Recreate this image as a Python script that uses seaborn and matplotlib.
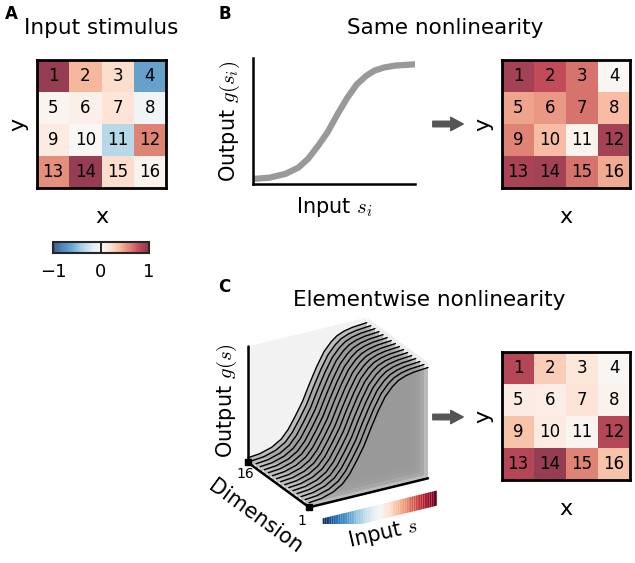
import numpy as np
import matplotlib
matplotlib.use("Agg")
import matplotlib.pyplot as plt
import seaborn as sns
from mpl_toolkits.mplot3d.art3d import Poly3DCollection

# cell values (RdBu_r scale, -1..1), row-major, cells numbered 1..16
cell_ids = np.arange(1, 17).reshape(4, 4)
stimulus = [[0.95, 0.40, 0.22, -0.65],
            [0.04, 0.08, 0.18, -0.06],
            [0.12, 0.02, -0.35, 0.60],
            [0.55, 0.95, 0.22, 0.06]]
same_out = [[0.90, 0.80, 0.65, 0.03],
            [0.48, 0.52, 0.65, 0.38],
            [0.60, 0.38, 0.06, 0.90],
            [0.88, 0.90, 0.65, 0.45]]
elem_out = [[0.85, 0.30, 0.15, 0.03],
            [0.12, 0.10, 0.18, 0.06],
            [0.35, 0.12, 0.04, 0.85],
            [0.85, 0.95, 0.60, 0.35]]

# sigmoid (normalised axes)
curve_x = [0.0, 0.10, 0.20, 0.28, 0.34, 0.40, 0.46, 0.52, 0.58, 0.64, 0.70, 0.75, 0.81, 0.88, 1.0]
curve_y = [0.04, 0.05, 0.08, 0.13, 0.20, 0.30, 0.41, 0.55, 0.68, 0.79, 0.86, 0.90, 0.925, 0.94, 0.95]
dims = list(range(1, 17))

sns.set_style("white")
plt.rcParams["font.family"] = ["DejaVu Sans"]
plt.rcParams["mathtext.fontset"] = "cm"
plt.rcParams["text.color"] = "black"
plt.rcParams["axes.labelcolor"] = "black"
plt.rcParams["xtick.color"] = "black"
plt.rcParams["ytick.color"] = "black"

W, H = 635, 563
fig = plt.figure(figsize=(W / 100, H / 100), dpi=100)


def px(x0, y0, w, h):
    # pixel box (top-left origin) -> figure rect
    return [x0 / W, 1 - (y0 + h) / H, w / W, h / H]


def grid_map(ax, vals, xlab_pad=14):
    sns.heatmap(np.array(vals), ax=ax, cmap="RdBu_r", vmin=-1, vmax=1, alpha=0.78,
                annot=cell_ids, fmt="d", cbar=False, square=False,
                annot_kws={"fontsize": 12, "color": "black"})
    ax.set_xticks([])
    ax.set_yticks([])
    for sp in ax.spines.values():
        sp.set_visible(True)
        sp.set_linewidth(2)
        sp.set_color("black")
    ax.set_xlabel("x", fontsize=16, labelpad=xlab_pad)
    ax.set_ylabel("y", fontsize=16, labelpad=6)


# A
axA = fig.add_axes(px(37, 60, 129, 128))
grid_map(axA, stimulus)
cax = fig.add_axes(px(53, 242, 96, 11))
cb = fig.colorbar(axA.collections[0], cax=cax, orientation="horizontal", ticks=[-1, 0, 1])
cb.ax.tick_params(length=0, labelsize=13, pad=7)
cb.ax.set_xticklabels(["\u22121", "0", "1"])
cb.ax.axvline(0, color="black", lw=1.2)
cb.outline.set_linewidth(1.5)
fig.text(101 / W, 1 - 28 / H, "Input stimulus", fontsize=15.5, ha="center", va="center")
fig.text(5 / W, 1 - 14 / H, "A", fontsize=12, fontweight="bold", ha="left", va="center")

# B
axB = fig.add_axes(px(253, 58, 162, 126))
sns.lineplot(x=curve_x, y=curve_y, ax=axB, color="0.6", linewidth=4.5)
axB.set_xlim(0, 1)
axB.set_ylim(0, 1)
axB.set_xticks([])
axB.set_yticks([])
sns.despine(ax=axB)
for sp in ["left", "bottom"]:
    axB.spines[sp].set_linewidth(1.8)
    axB.spines[sp].set_color("black")
axB.set_xlabel("Input $s_i$", fontsize=15, labelpad=8)
axB.set_ylabel("Output $g(s_i)$", fontsize=15, labelpad=8)

axB2 = fig.add_axes(px(502, 60, 128, 128))
grid_map(axB2, same_out)
fig.text(445 / W, 1 - 28 / H, "Same nonlinearity", fontsize=15.5, ha="center", va="center")
fig.text(218 / W, 1 - 14 / H, "B", fontsize=12, fontweight="bold", ha="left", va="center")

arrow = dict(arrowstyle="simple,head_length=0.45,head_width=0.48,tail_width=0.2",
             color="#555555", mutation_scale=20)
fig.add_artist(matplotlib.patches.FancyArrowPatch((430 / W, 1 - 124 / H), (466 / W, 1 - 124 / H),
                                                  transform=fig.transFigure, **arrow))
fig.add_artist(matplotlib.patches.FancyArrowPatch((430 / W, 1 - 417 / H), (466 / W, 1 - 417 / H),
                                                  transform=fig.transFigure, **arrow))

# C
axC2 = fig.add_axes(px(502, 352, 128, 128))
grid_map(axC2, elem_out)
fig.text(429 / W, 1 - 300 / H, "Elementwise nonlinearity", fontsize=15.5, ha="center", va="center")
fig.text(218 / W, 1 - 287 / H, "C", fontsize=12, fontweight="bold", ha="left", va="center")

ax3 = fig.add_axes(px(226, 306, 218, 218), projection="3d", computed_zorder=False)
ax3.set_proj_type("ortho")
ax3.view_init(elev=25, azim=-120)
ax3.set_box_aspect((1.12, 1.0, 1.05), zoom=1.0)
ax3.set_xlim(-1, 1)
ax3.set_ylim(1, 16)
ax3.set_zlim(0, 1)
for a, c in [(ax3.xaxis, (0.93, 0.93, 0.93)), (ax3.yaxis, (0.95, 0.95, 0.95)), (ax3.zaxis, (0.97, 0.97, 0.97))]:
    a.set_pane_color(c)
    a.pane.set_edgecolor((1, 1, 1, 0))
    a.line.set_color((1, 1, 1, 0))
    a.set_ticks([])
ax3.grid(False)

s = [-1 + 2 * v for v in curve_x]
for k, d in enumerate(sorted(dims, reverse=True)):
    verts = [(s[0], d, 0)] + [(si, d, zi) for si, zi in zip(s, curve_y)] + [(s[-1], d, 0)]
    poly = Poly3DCollection([verts], facecolor=(0.6, 0.6, 0.6), edgecolor="none", alpha=0.6)
    poly.set_zorder(10 + 2 * k)
    ax3.add_collection3d(poly)
    ax3.plot(s, [d] * len(s), curve_y, color="black", lw=1.0, zorder=11 + 2 * k)

# axis lines drawn by hand
ax3.plot([-1, -1], [16, 16], [0, 1], color="black", lw=1.8, zorder=60)
ax3.plot([-1, -1], [16, 1], [0, 0], color="black", lw=1.8, zorder=60)
ax3.plot([-1, 1], [1, 1], [0, 0], color="black", lw=1.8, zorder=60)
ax3.plot([-1, -1], [16, 1], [0, 0], ls="none", marker="s", ms=4, color="black", zorder=61)

# colour band for input axis
cmap = plt.get_cmap("RdBu_r")
edges = np.linspace(-1.02, 0.9, 65)
band = [[(edges[i], -2.6, -0.13), (edges[i + 1], -2.6, -0.13), (edges[i + 1], -2.6, 0.0), (edges[i], -2.6, 0.0)]
        for i in range(64)]
bandc = Poly3DCollection(band, facecolors=[cmap(i / 63) for i in range(64)], edgecolor="none")
bandc.set_zorder(62)
ax3.add_collection3d(bandc)

fig.text(227 / W, 1 - 401 / H, "Output $g(s)$", fontsize=15, rotation=90, ha="center", va="center")
fig.text(255 / W, 1 - 517 / H, "Dimension", fontsize=15, rotation=-36, ha="center", va="center")
fig.text(383 / W, 1 - 533 / H, "Input $s$", fontsize=15, rotation=13, ha="center", va="center")
fig.text(245 / W, 1 - 474 / H, "16", fontsize=10, ha="center", va="center")
fig.text(302 / W, 1 - 521 / H, "1", fontsize=10, ha="center", va="center")

fig.savefig("out.png", dpi=100)
